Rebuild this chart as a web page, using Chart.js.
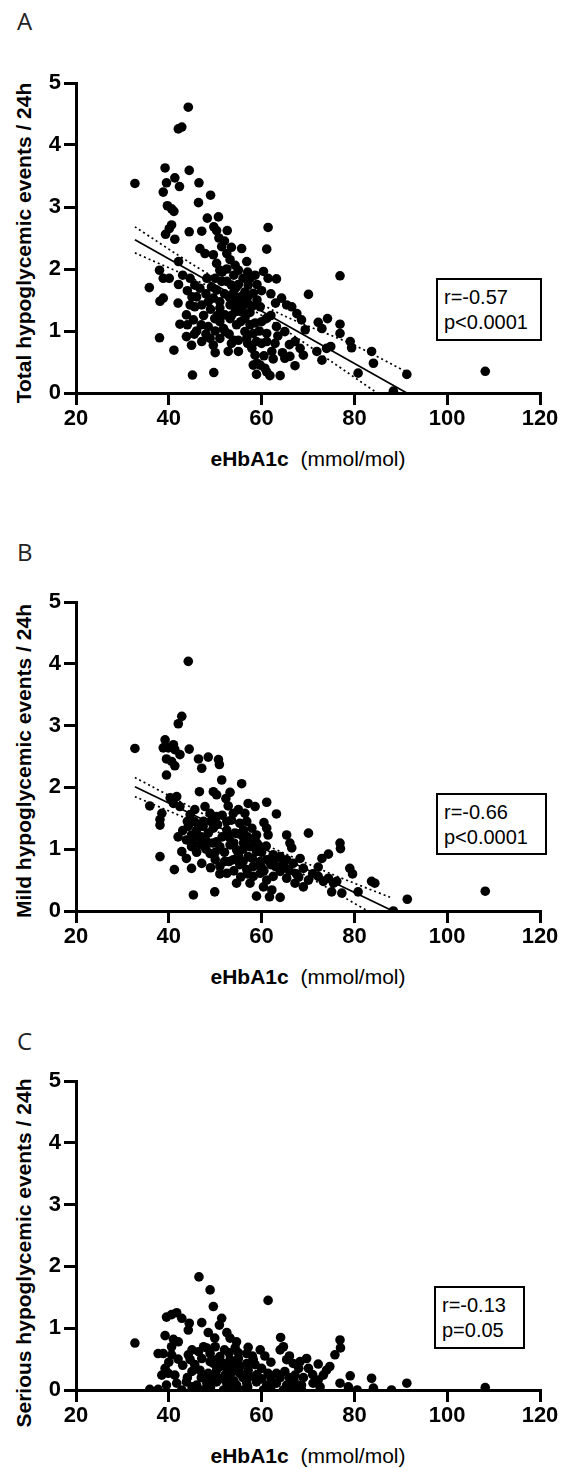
<!DOCTYPE html>
<html>
<head>
<meta charset="utf-8">
<script src="https://cdn.jsdelivr.net/npm/chart.js@4.4.1/dist/chart.umd.min.js"></script>
<style>
  html, body { margin: 0; padding: 0; background: #fff; }
  body { width: 568px; height: 1468px; position: relative; overflow: hidden; font-family: "Liberation Sans", Arial, sans-serif; color: #000; }
  canvas { position: absolute; left: 0; }
  .plabel { position: absolute; left: 17px; font-family: "Open Sans", "Noto Sans", sans-serif; font-size: 24px; line-height: 30px; color: #222; font-weight: 400; }
  .ytitle { position: absolute; left: 24px; white-space: nowrap; font-weight: bold; font-size: 21px; line-height: 24px; transform: translate(-50%, -50%) rotate(-90deg); }
  .xtitle { position: absolute; left: 76px; width: 464px; text-align: center; font-size: 21px; line-height: 25px; white-space: nowrap; }
  .xtitle b { font-weight: bold; margin-right: 6px; }
  .stat { position: absolute; box-sizing: border-box; border: 2px solid #000; font-size: 20px; line-height: 25px; padding: 5px 0 0 6px; white-space: nowrap; }
</style>
</head>
<body>
<div class="plabel" style="top:6px">A</div>
<div class="plabel" style="top:537px">B</div>
<div class="plabel" style="top:1026px">C</div>

<div class="ytitle" style="top:243px">Total hypoglycemic events / 24h</div>
<div class="ytitle" style="top:761px">Mild hypoglycemic events / 24h</div>
<div class="ytitle" style="top:1253px">Serious hypoglycemic events / 24h</div>

<div class="xtitle" style="top:446px"><b>eHbA1c</b> (mmol/mol)</div>
<div class="xtitle" style="top:964px"><b>eHbA1c</b> (mmol/mol)</div>
<div class="xtitle" style="top:1443px"><b>eHbA1c</b> (mmol/mol)</div>

<div class="stat" style="left:436px; top:278px; width:106px; height:63px">r=-0.57<br>p&lt;0.0001</div>
<div class="stat" style="left:436px; top:793px; width:111px; height:62px">r=-0.66<br>p&lt;0.0001</div>
<div class="stat" style="left:434px; top:1286px; width:91px; height:63px">r=-0.13<br>p=0.05</div>

<canvas id="cA" width="568" height="375" style="top:63px"></canvas>
<canvas id="cB" width="568" height="374" style="top:582px"></canvas>
<canvas id="cC" width="568" height="374" style="top:1061px"></canvas>

<script>
// ---------- Tick settings ----------
const xTicks = [20, 40, 60, 80, 100, 120];
const yTicks = [0, 1, 2, 3, 4, 5];

// ---------- Panel A: total hypoglycemic events ----------
const totalX = [44.2,42.05,42.8,32.7,39.2,44.4,39.5,41.3,42.3,46.5,38.8,49.0,46.4,39.7,40.6,41.1,48.3,50.7,40.6,40.1,39.3,41.3,44.4,47.1,49.7,50.3,52.6,61.4,50.8,46.7,47.8,51.4,52.5,53.2,54.3,55.0,55.7,61.1,49.6,50.3,51.0,56.8,42.1,38.0,38.8,40.1,35.8,42.1,44.6,45.6,46.7,48.2,49.2,50.3,51.4,52.5,53.5,57.5,58.6,60.4,61.4,63.2,38.1,38.8,58.2,59.7,64.3,65.4,66.5,67.6,68.6,70.1,76.9,72.2,73.0,74.2,76.9,76.9,69.4,44.6,45.6,47.1,48.5,49.6,51.0,43.8,45.3,42.4,48.5,49.9,51.0,51.8,53.2,54.6,56.4,57.5,58.6,52.1,51.0,49.6,47.1,48.9,43.8,44.9,38.0,41.1,52.8,55.0,56.8,57.9,58.6,59.0,58.2,61.1,62.9,62.2,61.1,63.2,65.0,67.2,68.3,69.0,66.1,65.0,67.2,71.9,73.0,74.0,74.9,79.1,79.4,83.7,84.1,80.8,91.3,88.4,45.1,49.7,58.9,61.1,61.8,64.0,59.7,60.7,53.9,54.6,55.3,54.3,55.7,53.2,56.4,57.1,51.0,52.1,58.2,58.9,56.4,108.2,55.0,56.0,57.0,55.5,53.0,54.0,57.5,60.0,62.0,63.5,60.5,62.5,64.5,66.0,50.0,47.5,46.0,44.0,53.5,52.0,
  53.0,54.0,55.0,56.0,57.0,54.5,52.0,53.5,55.5,56.5,58.0,59.0,50.5,49.0,47.0,46.0,45.0,48.0,50.0,51.5,52.5,54.0,56.0,57.0,59.0,60.0,62.0,63.0,61.0,59.5,60.0,57.0,55.0,53.5,50.0,48.0,45.5,44.0,42.0,43.0];
const totalY = [4.61,4.26,4.29,3.38,3.63,3.59,3.39,3.47,3.33,3.39,3.24,3.19,3.07,3.02,2.97,2.93,2.82,2.84,2.71,2.65,2.56,2.48,2.60,2.61,2.68,2.62,2.62,2.67,2.50,2.33,2.25,2.36,2.25,2.15,2.06,1.98,2.33,2.32,2.23,2.09,1.98,2.12,2.12,1.98,1.85,1.85,1.70,1.75,1.85,1.74,1.69,1.85,1.71,1.66,1.80,1.80,1.74,1.85,1.90,1.96,1.85,1.84,1.48,1.53,1.61,1.39,1.53,1.42,1.39,1.28,1.18,1.59,1.89,1.14,1.04,1.20,1.11,0.96,1.02,1.42,1.39,1.42,1.47,1.53,1.47,1.26,1.18,1.11,1.07,1.20,1.15,1.04,1.20,1.10,1.20,1.10,1.13,0.99,0.88,0.77,0.83,0.88,0.91,0.77,0.89,0.69,0.67,0.67,0.88,0.72,0.61,0.48,0.45,0.83,0.80,0.67,0.96,1.07,0.99,0.83,0.72,0.61,0.59,0.56,0.44,0.67,0.53,0.72,0.75,0.83,0.73,0.67,0.48,0.32,0.30,0.03,0.29,0.33,0.30,0.34,0.28,0.28,0.45,0.40,1.61,1.53,1.42,1.31,1.31,1.42,1.63,1.74,1.37,1.26,0.96,0.83,0.99,0.35,1.75,1.55,1.45,1.15,0.95,0.85,1.30,1.15,1.25,0.92,0.60,0.55,0.65,0.78,1.00,1.25,1.55,1.65,2.35,2.45,
  1.55,1.45,1.35,1.40,1.55,1.70,1.60,1.25,1.55,1.25,1.40,1.50,1.25,1.35,1.10,1.00,1.55,1.60,1.85,1.95,2.00,1.90,1.85,1.95,1.75,1.65,1.60,1.45,1.20,1.00,0.80,0.80,0.85,0.80,0.65,0.95,0.95,1.10,1.45,1.90];
const totalFitX = [32.7, 91.3];
const totalFitY = [2.47, 0.0];
const totalUpperX = [32.7, 45, 55, 65, 80, 91.5];
const totalUpperY = [2.68, 2.08, 1.64, 1.24, 0.77, 0.33];
const totalLowerX = [32.7, 45, 55, 65, 75, 84.9];
const totalLowerY = [2.26, 1.85, 1.47, 1.02, 0.51, 0.0];

// ---------- Panel B: mild hypoglycemic events ----------
const mildX = [44.2,42.8,42.05,32.7,39.2,38.8,39.9,41.0,41.3,42.4,39.5,40.6,41.3,44.4,46.4,48.5,47.1,50.7,50.9,39.5,51.4,55.7,46.6,49.6,50.3,53.2,52.3,52.8,40.3,41.7,41.0,42.4,35.9,38.5,38.1,38.1,57.1,58.6,61.1,63.2,44.6,45.6,47.8,48.9,50.3,44.2,44.9,46.0,47.4,48.5,49.6,53.9,55.0,56.4,53.5,55.3,56.8,52.5,54.3,56.1,57.9,58.9,60.5,61.1,61.4,43.8,44.9,46.7,48.2,50.3,51.0,53.2,54.6,56.1,57.5,58.9,57.1,65.4,66.1,66.5,70.1,76.9,77.0,42.8,43.8,44.9,38.1,41.2,47.1,48.9,50.0,51.0,52.5,53.9,55.3,56.8,58.2,59.7,61.1,62.5,64.0,65.4,66.8,68.3,69.0,58.2,59.7,61.1,62.5,64.0,65.4,67.2,69.0,70.1,54.6,58.9,61.7,64.0,60.4,62.2,45.3,49.9,72.2,73.0,74.4,72.2,73.3,74.4,75.5,76.2,75.1,77.3,79.0,79.6,83.7,84.4,80.8,91.4,88.4,108.2,45.5,47.0,49.0,51.5,52.0,53.0,55.0,56.0,57.0,59.0,60.0,63.0,65.0,67.5,71.0,46.0,
  45.0,46.0,47.5,48.0,49.5,50.5,51.5,52.5,53.0,54.0,55.0,56.0,57.0,58.0,59.5,60.0,61.0,62.0,63.0,64.5,66.0,68.0,50.0,52.0,54.0,56.0,58.0,60.5,46.5,44.0,43.0,42.0,49.0,51.0,55.5,57.5];
const mildY = [4.04,3.15,3.03,2.63,2.77,2.64,2.64,2.69,2.61,2.53,2.46,2.42,2.35,2.62,2.46,2.49,2.31,2.45,2.37,2.20,2.12,2.06,1.93,1.93,1.88,1.92,1.82,1.70,1.83,1.85,1.74,1.69,1.70,1.58,1.48,1.39,1.74,1.69,1.76,1.57,1.56,1.64,1.69,1.58,1.53,1.37,1.23,1.31,1.37,1.26,1.34,1.58,1.64,1.58,1.47,1.42,1.45,1.31,1.26,1.31,1.34,1.23,1.43,1.34,1.23,1.15,1.04,1.07,1.12,1.12,1.04,1.07,0.99,1.10,1.04,0.96,0.88,1.23,1.10,1.02,1.26,1.10,1.01,0.96,0.85,0.69,0.88,0.67,0.77,0.93,0.83,0.72,0.61,0.83,0.75,0.67,0.72,0.80,0.83,0.91,0.88,0.83,0.77,0.85,0.69,0.56,0.61,0.50,0.56,0.64,0.53,0.45,0.39,0.50,0.45,0.24,0.23,0.22,0.39,0.34,0.26,0.31,0.71,0.85,0.92,0.56,0.48,0.53,0.45,0.48,0.31,0.29,0.69,0.60,0.48,0.45,0.31,0.19,0.00,0.32,1.45,1.20,1.45,1.20,0.95,0.80,0.90,1.20,0.60,1.10,0.70,0.72,0.70,0.60,0.60,0.95,
  1.10,1.20,1.45,1.00,1.10,1.40,1.55,1.45,1.20,1.10,1.25,1.00,1.20,1.15,1.05,0.95,1.05,0.75,0.85,0.75,0.65,0.55,0.95,0.80,0.65,0.80,0.85,0.65,1.40,1.45,1.30,1.20,0.70,0.60,0.55,0.45];
const mildFitX = [32.7, 88.3];
const mildFitY = [2.01, 0.0];
const mildUpperX = [32.7, 45, 55, 65, 75, 88.1];
const mildUpperY = [2.16, 1.67, 1.27, 0.93, 0.60, 0.21];
const mildLowerX = [32.7, 45, 55, 65, 75, 82.9];
const mildLowerY = [1.85, 1.46, 1.13, 0.76, 0.34, 0.0];

// ---------- Panel C: serious hypoglycemic events ----------
const seriousX = [46.5,48.9,49.6,61.4,32.7,39.5,40.6,41.7,42.8,44.4,44.2,47.1,51.4,50.9,48.5,49.9,52.5,53.2,54.6,39.2,41.0,42.05,40.6,37.7,38.8,40.6,44.2,46.4,48.2,57.1,59.7,60.7,64.1,64.7,64.0,76.9,77.0,75.8,69.7,72.2,74.7,65.4,66.8,68.3,70.1,39.2,39.9,38.5,41.3,44.6,45.6,47.1,48.9,50.3,51.8,53.2,55.0,46.7,48.5,50.3,52.1,53.9,55.3,57.1,58.6,60.0,61.4,63.2,65.0,67.2,73.3,74.0,72.2,79.1,83.7,91.3,76.9,78.7,80.6,84.1,88.0,35.9,37.7,39.5,41.7,43.8,46.0,48.2,50.3,52.5,54.6,56.8,58.9,61.1,63.2,65.4,66.8,68.6,71.1,42.8,47.4,51.8,56.1,60.4,64.7,68.6,72.6,49.6,51.0,52.5,53.9,55.3,56.8,58.2,48.9,51.0,54.3,56.8,108.2,
  44.0,45.0,47.0,49.0,50.0,51.0,53.0,54.0,56.0,57.5,59.0,60.0,62.0,64.0,66.0,45.0,49.0,53.0,57.0,62.0,67.0,69.0,43.0,45.0,47.5,50.0,52.0,53.0,55.0,58.0,62.0,66.0,68.0,71.0,40.0,42.0];
const seriousY = [1.83,1.62,1.35,1.45,0.76,1.18,1.22,1.25,1.16,1.08,0.97,1.09,1.16,1.05,0.93,0.84,0.93,0.84,0.78,0.88,0.82,0.78,0.70,0.59,0.59,0.57,0.57,0.62,0.68,0.69,0.65,0.55,0.85,0.70,0.65,0.81,0.68,0.57,0.51,0.42,0.38,0.49,0.43,0.46,0.35,0.35,0.27,0.24,0.24,0.49,0.41,0.51,0.46,0.49,0.43,0.49,0.51,0.32,0.27,0.32,0.24,0.30,0.27,0.32,0.41,0.35,0.27,0.27,0.30,0.24,0.24,0.32,0.16,0.23,0.19,0.11,0.11,0.05,0.00,0.03,0.00,0.01,0.01,0.08,0.11,0.13,0.08,0.11,0.13,0.11,0.08,0.11,0.13,0.08,0.11,0.08,0.05,0.08,0.11,0.00,0.00,0.00,0.00,0.00,0.00,0.00,0.05,0.43,0.38,0.35,0.40,0.38,0.43,0.49,0.59,0.54,0.68,0.59,0.04,
  0.20,0.30,0.20,0.20,0.25,0.18,0.20,0.15,0.20,0.22,0.25,0.18,0.20,0.20,0.20,0.05,0.05,0.05,0.05,0.05,0.15,0.20,0.40,0.65,0.70,0.70,0.65,0.60,0.60,0.55,0.45,0.55,0.35,0.25,0.45,0.50];

// ---------- Helpers ----------
const FONT = "'Liberation Sans', Arial, Helvetica, sans-serif";
function pts(xs, ys) { return xs.map((x, i) => ({ x: x, y: ys[i] })); }

function makePanel(id, xs, ys, lines) {
  const datasets = [{
    data: pts(xs, ys),
    backgroundColor: '#000',
    borderWidth: 0,
    pointRadius: 4.8,
    pointHoverRadius: 4.8,
    showLine: false
  }];
  if (lines) {
    datasets.push({ data: pts(lines.fitX, lines.fitY), showLine: true, borderColor: '#000', borderWidth: 1.7, pointRadius: 0, fill: false });
    datasets.push({ data: pts(lines.upX, lines.upY), showLine: true, borderColor: '#000', borderWidth: 1.7, borderDash: [2, 3], pointRadius: 0, fill: false, tension: 0.3 });
    datasets.push({ data: pts(lines.loX, lines.loY), showLine: true, borderColor: '#000', borderWidth: 1.7, borderDash: [2, 3], pointRadius: 0, fill: false, tension: 0.3 });
  }
  new Chart(document.getElementById(id), {
    type: 'scatter',
    data: { datasets: datasets },
    options: {
      responsive: false,
      animation: false,
      events: [],
      layout: { padding: { top: 20, right: 28, left: 0, bottom: 0 } },
      plugins: { legend: { display: false }, tooltip: { enabled: false } },
      scales: {
        x: {
          type: 'linear',
          min: xTicks[0], max: xTicks[xTicks.length - 1],
          afterBuildTicks: s => { s.ticks = xTicks.map(v => ({ value: v })); },
          afterFit: s => { s.height = 45; },
          grid: { drawOnChartArea: false, drawTicks: true, tickLength: 12, color: '#000', lineWidth: 3 },
          border: { display: true, color: '#000', width: 3 },
          ticks: { color: '#000', font: { family: FONT, size: 22, weight: 'bold' }, padding: 1, maxRotation: 0 }
        },
        y: {
          type: 'linear',
          min: yTicks[0], max: yTicks[yTicks.length - 1],
          afterBuildTicks: s => { s.ticks = yTicks.map(v => ({ value: v })); },
          afterFit: s => { s.width = 76; },
          grid: { drawOnChartArea: false, drawTicks: true, tickLength: 12, color: '#000', lineWidth: 3 },
          border: { display: true, color: '#000', width: 3 },
          ticks: { color: '#000', font: { family: FONT, size: 22, weight: 'bold' }, padding: 3 }
        }
      }
    }
  });
}

makePanel('cA', totalX, totalY, { fitX: totalFitX, fitY: totalFitY, upX: totalUpperX, upY: totalUpperY, loX: totalLowerX, loY: totalLowerY });
makePanel('cB', mildX, mildY, { fitX: mildFitX, fitY: mildFitY, upX: mildUpperX, upY: mildUpperY, loX: mildLowerX, loY: mildLowerY });
makePanel('cC', seriousX, seriousY, null);
</script>
</body>
</html>
